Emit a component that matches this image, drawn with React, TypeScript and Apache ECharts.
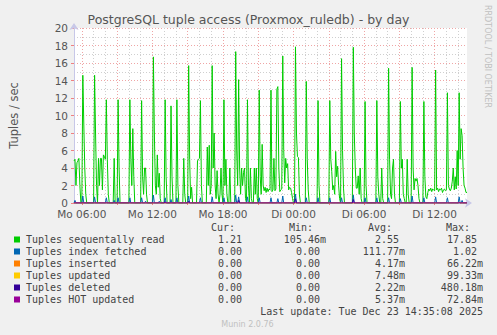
import React, { useEffect, useRef } from "react";
import * as echarts from "echarts";

// Samples every 5 minutes starting Mo 05:20 (index 0)
const startMinutes = 5 * 60 + 20;
const stepMinutes = 5;

const seqRead: number[] = [
  4.8, 5.0, 2.0, 4.6, 4.8, 5.1, 2.0, 0, 0, 14.6,
  9, 4, 1, 0, 0, 0, 0, 0, 0, 0,
  0, 14.6, 8, 2, 0, 5.1, 2, 5.1, 5.1, 1.5,
  5.5, 5.3, 5.0, 11.8, 5, 1, 0, 0, 0, 0,
  0, 5.1, 0, 0, 0, 11.8, 4, 0, 0, 0,
  0, 0, 0, 0, 0, 0, 0, 11.8, 5, 2,
  8.5, 3, 0, 0, 0, 0, 0, 0, 0, 11.7,
  3, 1, 4.0, 4.0, 1, 0, 0, 0, 0, 0,
  0, 16.7, 8, 2, 1, 5.5, 1.8, 3.4, 0.5, 0,
  0, 0, 0, 11.8, 3, 0, 0, 0, 0, 11.1,
  3, 0, 0, 0, 0, 11.8, 2, 0, 0, 0,
  0, 0, 5.1, 1, 0, 0, 0, 15.7, 5, 0.5,
  1.8, 0, 0, 0, 0, 0, 4.8, 5.0, 5.1, 11.7,
  2, 0, 0, 0, 0, 0, 6.4, 2, 6.6, 1,
  2, 15.7, 4, 8.0, 2, 0.5, 3.7, 1, 0, 1,
  4.0, 1, 0, 11.8, 2, 5.0, 1, 0, 0, 4.0,
  0, 0, 0, 0, 0, 17.3, 6, 2, 14.1, 4,
  1, 4.0, 2, 3.5, 4.0, 0.5, 0, 11.8, 2, 0,
  4.0, 0.5, 0, 0, 4.0, 1, 4.0, 0.5, 0, 12.9,
  3, 1, 6.7, 2, 1.4, 1.8, 1.2, 1.7, 1.3, 1.6,
  1.5, 12.9, 1.3, 1.5, 5.1, 1.4, 1.6, 13.0, 13.3, 4,
  1.3, 1.5, 1.6, 16.8, 6, 2.3, 5.1, 4.0, 4.5, 1.5,
  1.8, 1.7, 1.2, 0.5, 0, 0, 17.85, 8, 5.3, 5.2,
  1, 0, 0, 0, 0, 0, 0, 13.9, 5, 1.5,
  0, 0, 0, 0, 0, 0, 0, 0, 0, 11.7,
  2, 0, 0, 0, 0, 0, 0, 0, 0, 0,
  0, 11.7, 5, 3.6, 1.5, 2.0, 1, 5.9, 3, 4.2,
  2, 0.5, 0, 16.5, 6, 1.7, 0, 0, 0, 0,
  0, 0, 0, 0, 0, 17.8, 8, 4.0, 1.7, 1.7,
  3.1, 1, 4.0, 0.5, 0, 0, 0, 11.6, 2, 0,
  0, 0, 0, 0, 0, 0, 0, 0, 0, 11.7,
  3, 1, 0, 0, 4.0, 0.5, 0, 0, 0, 0,
  0, 15.4, 5, 1, 0.5, 4.0, 5.0, 1, 0, 0,
  0, 0, 0, 11.6, 4.0, 5.0, 1, 0.5, 0, 0,
  5.0, 1, 0, 0, 0, 15.5, 4, 1.5, 2.8, 2.5,
  2.8, 2.0, 0.5, 0, 0, 0, 0, 11.6, 3, 0.7,
  0.5, 1.2, 1.6, 1.4, 1.7, 1.3, 1.6, 1.5, 1.4, 15.2,
  1.5, 1.7, 1.3, 1.6, 1.5, 1.7, 1.2, 1.5, 1.6, 1.4,
  1.5, 12.6, 2, 1.6, 1.4, 1.7, 2.5, 4.0, 1.5, 3,
  1.6, 6.0, 2, 12.6, 5, 8.5, 7.7, 4, 2, 1.7,
  1.2, 1.21,
];

// Sparse series: [sample index, value]; all other samples are 0
const idxFetched: [number, number][] = [
  [1, 0.3], [9, 0.8], [21, 0.7], [33, 0.6], [41, 0.3], [45, 0.6], [57, 0.6], [69, 0.6],
  [73, 0.2], [81, 0.9], [87, 0.2], [93, 0.6], [99, 0.4], [105, 0.6], [117, 0.8], [129, 0.6],
  [141, 0.7], [153, 0.6], [165, 0.9], [168, 0.7], [177, 0.7], [189, 0.6], [201, 0.6],
  [208, 0.5], [213, 0.8], [226, 1.02], [237, 0.6], [249, 0.6], [261, 0.6], [273, 0.6],
  [285, 0.9], [297, 0.6], [309, 0.6], [321, 0.6], [333, 0.5], [345, 0.8], [357, 0.6],
  [369, 0.7], [381, 0.6], [393, 0.7], [396, 0.3],
];
const inserted: [number, number][] = [[33, 0.066], [69, 0.04], [393, 0.05]];
const updated: [number, number][] = [[393, 0.099], [152, 0.05], [126, 0.06]];
const deleted: [number, number][] = [[226, 0.48], [285, 0.4], [168, 0.3], [117, 0.2], [93, 0.15]];
const hotUpdated: [number, number][] = [[226, 0.073], [285, 0.05], [393, 0.06]];

const seriesNames = [
  "Tuples sequentally read",
  "Tuples index fetched",
  "Tuples inserted",
  "Tuples updated",
  "Tuples deleted",
  "Tuples HOT updated",
];
const seriesColors = ["#00CC00", "#0066B3", "#FF8000", "#FFCC00", "#330099", "#990099"];
const curVals = ["1.21", "0.00", "0.00", "0.00", "0.00", "0.00"];
const minVals = ["105.46m", "0.00", "0.00", "0.00", "0.00", "0.00"];
const avgVals = ["2.55", "111.77m", "4.17m", "7.48m", "2.22m", "5.37m"];
const maxVals = ["17.85", "1.02", "66.22m", "99.33m", "480.18m", "72.84m"];
const dayNames = ["Mo", "Di"];

const n = seqRead.length;
const categories: string[] = [];
for (let i = 0; i < n; i++) {
  const m = startMinutes + i * stepMinutes;
  const d = Math.floor(m / 1440);
  const mm = m % 1440;
  const hh = String(Math.floor(mm / 60)).padStart(2, "0");
  const mi = String(mm % 60).padStart(2, "0");
  categories.push(`${dayNames[d]} ${hh}:${mi}`);
}
const isOnHour = (i: number) => (startMinutes + i * stepMinutes) % 60 === 0;
const isOn3h = (i: number) => (startMinutes + i * stepMinutes) % 180 === 0;
const isOn6h = (i: number) => (startMinutes + i * stepMinutes) % 360 === 0;

function fromSparse(pairs: [number, number][]): number[] {
  const arr = new Array(n).fill(0);
  pairs.forEach(([i, v]) => (arr[i] = v));
  return arr;
}

export default function App() {
  const ref = useRef<HTMLDivElement>(null);
  useEffect(() => {
    if (!ref.current) return;
    const chart = echarts.init(ref.current, null, { renderer: "svg" });
    const allData = [
      seqRead,
      fromSparse(idxFetched),
      fromSparse(inserted),
      fromSparse(updated),
      fromSparse(deleted),
      fromSparse(hotUpdated),
    ];
    const mono = "'DejaVu Sans Mono', monospace";
    const sans = "'DejaVu Sans', sans-serif";
    const textColor = "#444";
    const colCur = 248, colMin = 326, colAvg = 405, colMax = 483;
    const rowY0 = 239.5, rowStep = 12;
    const graphics: any[] = [
      {
        type: "text", x: 248.5, y: 19,
        style: { text: "PostgreSQL tuple access (Proxmox_ruledb) - by day", font: `12.5px ${sans}`, fill: "#555", align: "center", verticalAlign: "middle" },
      },
      {
        type: "text", x: 487, y: 5, rotation: -Math.PI / 2,
        style: { text: "RRDTOOL / TOBI OETIKER", font: `8px ${sans}`, fill: "#c0c0c0", align: "left", verticalAlign: "middle" },
      },
      { type: "text", x: 235, y: 227, style: { text: "Cur:", font: `10px ${mono}`, fill: textColor, align: "right", verticalAlign: "middle" } },
      { type: "text", x: 313, y: 227, style: { text: "Min:", font: `10px ${mono}`, fill: textColor, align: "right", verticalAlign: "middle" } },
      { type: "text", x: 392, y: 227, style: { text: "Avg:", font: `10px ${mono}`, fill: textColor, align: "right", verticalAlign: "middle" } },
      { type: "text", x: 470, y: 227, style: { text: "Max:", font: `10px ${mono}`, fill: textColor, align: "right", verticalAlign: "middle" } },
      { type: "text", x: 483, y: 311.5, style: { text: "Last update: Tue Dec 23 14:35:08 2025", font: `10px ${mono}`, fill: textColor, align: "right", verticalAlign: "middle" } },
      { type: "text", x: 247.5, y: 324, style: { text: "Munin 2.0.76", font: `8px ${sans}`, fill: "#c0c0c0", align: "center", verticalAlign: "middle" } },
    ];
    const valText = (s: string, col: number, y: number) => ({
      type: "text", x: s.endsWith("m") ? col : col - 6, y,
      style: { text: s, font: `10px ${mono}`, fill: textColor, align: "right", verticalAlign: "middle" },
    });
    seriesNames.forEach((name, k) => {
      const y = rowY0 + k * rowStep;
      graphics.push({ type: "rect", shape: { x: 14, y: y - 3, width: 6, height: 6 }, style: { fill: seriesColors[k] } });
      graphics.push({ type: "text", x: 26, y, style: { text: name, font: `10px ${mono}`, fill: textColor, align: "left", verticalAlign: "middle" } });
      graphics.push(valText(curVals[k], colCur, y));
      graphics.push(valText(minVals[k], colMin, y));
      graphics.push(valText(avgVals[k], colAvg, y));
      graphics.push(valText(maxVals[k], colMax, y));
    });

    chart.setOption({
      animation: false,
      backgroundColor: "#F0F0F0",
      grid: { left: 66, right: 30, top: 28, bottom: 132, show: true, backgroundColor: "#FFFFFF", borderWidth: 0 },
      xAxis: [
        {
          type: "category",
          data: categories,
          boundaryGap: false,
          position: "bottom",
          axisLine: { show: true, lineStyle: { color: "#C8C8E8", width: 1 }, symbol: ["none", "arrow"], symbolSize: [7, 7], symbolOffset: [0, 5] },
          axisTick: { show: true, interval: (i: number) => isOn3h(i), length: 2, lineStyle: { color: "#F08080" } },
          axisLabel: {
            interval: (i: number) => isOn6h(i),
            formatter: (v: string) => v,
            color: "#555",
            fontFamily: sans,
            fontSize: 10.5,
            margin: 5,
          },
          splitLine: { show: true, interval: (i: number) => isOnHour(i) && !isOn3h(i), lineStyle: { color: "#CFCFCF", type: [1, 2], width: 1 } },
        },
        {
          type: "category",
          data: categories,
          boundaryGap: false,
          position: "bottom",
          axisLine: { show: false },
          axisTick: { show: false },
          axisLabel: { show: false },
          splitLine: { show: true, interval: (i: number) => isOn3h(i), lineStyle: { color: "#EFA5A5", type: [1, 2], width: 1 } },
        },
      ],
      yAxis: {
        type: "value",
        min: 0,
        max: 20,
        interval: 2,
        name: "Tuples / sec",
        nameLocation: "middle",
        nameGap: 54,
        nameRotate: 90,
        nameTextStyle: { color: "#555", fontFamily: sans, fontSize: 11.5 },
        axisLine: { show: true, lineStyle: { color: "#C8C8E8", width: 1 }, symbol: ["none", "arrow"], symbolSize: [7, 7], symbolOffset: [0, 5] },
        axisTick: { show: true, length: 3, lineStyle: { color: "#F08080" } },
        axisLabel: { color: "#555", fontFamily: sans, fontSize: 10.5, margin: 6 },
        splitLine: { show: true, lineStyle: { color: "#EFA5A5", type: [1, 2], width: 1 } },
        minorTick: { show: false, splitNumber: 2 },
        minorSplitLine: { show: true, lineStyle: { color: "#CFCFCF", type: [1, 2], width: 1 } },
      },
      graphic: graphics,
      series: allData.map((d, k) => ({
        name: seriesNames[k],
        type: "line",
        data: d,
        xAxisIndex: 0,
        showSymbol: false,
        symbol: "none",
        lineStyle: { color: seriesColors[k], width: 1 },
        itemStyle: { color: seriesColors[k] },
        z: 2 + k,
      })),
    });
    return () => chart.dispose();
  }, []);
  return <div ref={ref} style={{ width: 497, height: 335, position: "absolute", left: 0, top: 0 }} />;
}
